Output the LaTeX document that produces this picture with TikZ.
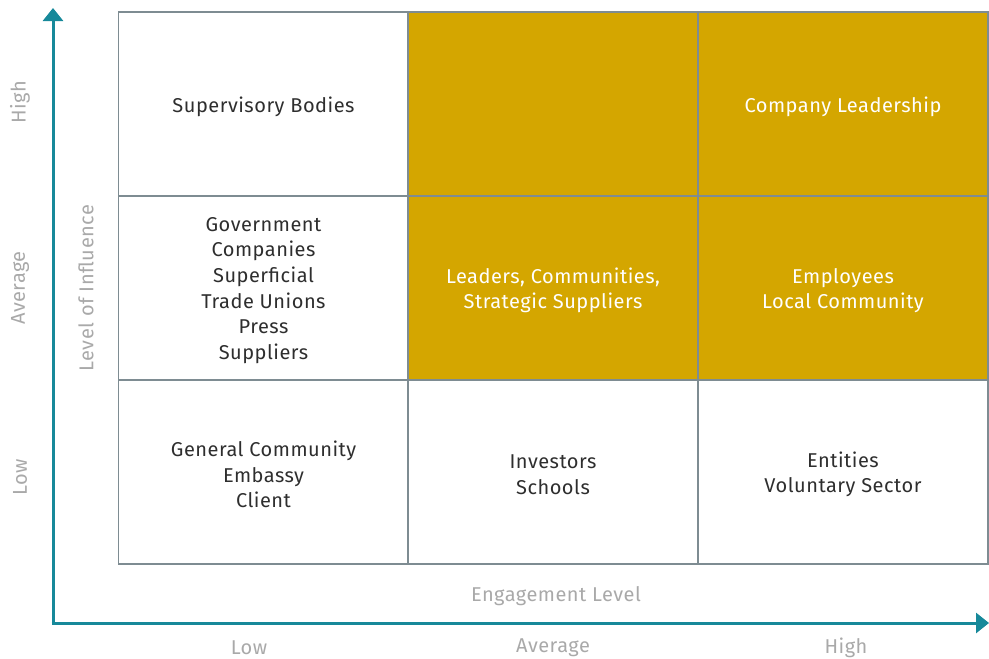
\documentclass[tikz,border=0pt]{standalone}
\usepackage{fontspec}
\setmainfont[LetterSpace=2.5]{Fira Sans}
\usetikzlibrary{arrows.meta}
\definecolor{axisteal}{HTML}{17899A}
\definecolor{gridgray}{HTML}{7E8C92}
\definecolor{cellgold}{HTML}{D4A600}
\definecolor{cellink}{HTML}{2E2E2E}
\definecolor{labelgray}{HTML}{A9A9A9}
\begin{document}
\begin{tikzpicture}[x=1pt,y=-1pt,
  cell/.style={draw=gridgray,line width=1.8pt,minimum width=290pt,minimum height=184pt,inner sep=0pt},
  hot/.style={cell,fill=cellgold},
  celltext/.style={align=center,text=cellink,inner sep=0pt,font=\fontsize{20}{25.6}\selectfont},
  hottext/.style={celltext,text=white},
  axis/.style={draw=axisteal,line width=3pt,-{Triangle[width=20pt,length=13pt]}},
  scale label/.style={text=labelgray,font=\fontsize{20}{22}\selectfont},
  axis title/.style={text=labelgray,font=\fontsize{20}{22}\selectfont}]
\useasboundingbox (0,0) rectangle (989,659);
% grid of cells, three columns by three rows
\node[cell] (c11) at (263.5,104) {};
\node[hot]  (c12) at (553,104) {};
\node[hot]  (c13) at (843,104) {};
\node[cell] (c21) at (263.5,288) {};
\node[hot]  (c22) at (553,288) {};
\node[hot]  (c23) at (843,288) {};
\node[cell] (c31) at (263.5,472) {};
\node[cell] (c32) at (553,472) {};
\node[cell] (c33) at (843,472) {};
% cell texts, set a little below each cell centre
\node[celltext] (t11) at ([yshift=-2.5pt]c11.center) {Supervisory Bodies};
\node[hottext]  (t13) at ([yshift=-2.5pt]c13.center) {Company Leadership};
\node[celltext] (t21) at ([yshift=-2.5pt]c21.center) {Government\\Companies\\Superficial\\Trade Unions\\Press\\Suppliers};
\node[hottext]  (t22) at ([yshift=-2.5pt]c22.center) {Leaders, Communities,\\Strategic Suppliers};
\node[hottext]  (t23) at ([yshift=-2.5pt]c23.center) {Employees\\Local Community};
\node[celltext] (t31) at ([yshift=-2.5pt]c31.center) {General Community\\Embassy\\Client};
\node[celltext] (t32) at ([yshift=-2.5pt]c32.center) {Investors\\Schools};
\node[celltext] (t33) at ([yshift=-2.5pt]c33.center) {Entities\\Voluntary Sector};
% axes
\coordinate (origin) at (53,623);
\coordinate (ytip) at (53,8);
\coordinate (xtip) at (989,623);
\draw[axis] (origin) -- (ytip);
\draw[axis] ([xshift=-1.5pt]origin) -- (xtip);
% axis titles
\node[axis title,rotate=90] (ytitle) at (86,288) {Level of Influence};
\node[axis title] (xtitle) at (556,596) {Engagement Level};
% scale labels
\node[scale label,rotate=90] (yhigh) at (20,102) {High};
\node[scale label,rotate=90] (yavg) at (20,288) {Average};
\node[scale label,rotate=90] (ylow) at (20,477) {Low};
\node[scale label] (xlow) at (249,648) {Low};
\node[scale label] (xavg) at (553,648) {Average};
\node[scale label] (xhigh) at (846,648) {High};
\end{tikzpicture}
\end{document}
